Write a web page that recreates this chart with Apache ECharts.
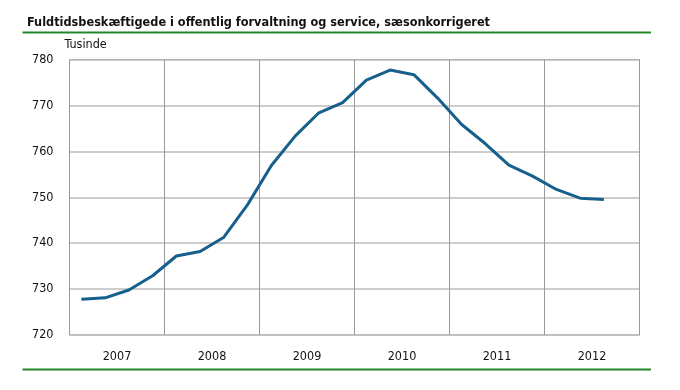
<!DOCTYPE html>
<html>
<head>
<meta charset="utf-8">
<script src="https://cdn.jsdelivr.net/npm/echarts@6/dist/echarts.min.js"></script>
<style>
html,body{margin:0;padding:0;background:#fff;}
#c{width:680px;height:390px;}
</style>
</head>
<body>
<div id="c"></div>
<script>
var titleText = 'Fuldtidsbeskæftigede i offentlig forvaltning og service, sæsonkorrigeret';
var unitLabel = 'Tusinde';
var years = ['2007', '2008', '2009', '2010', '2011', '2012'];
var quarters = ['2007K1','2007K2','2007K3','2007K4','2008K1','2008K2','2008K3','2008K4',
  '2009K1','2009K2','2009K3','2009K4','2010K1','2010K2','2010K3','2010K4',
  '2011K1','2011K2','2011K3','2011K4','2012K1','2012K2','2012K3','2012K4'];
var values = [727.8, 728.1, 729.8, 732.9, 737.2, 738.2, 741.3, 748.4,
  756.9, 763.3, 768.4, 770.6, 775.5, 777.7, 776.7, 771.6,
  765.9, 761.7, 757.0, 754.6, 751.7, 749.8, 749.5, null];
var yTicks = [720, 730, 740, 750, 760, 770, 780];

var FONT = '"DejaVu Sans Condensed", "Liberation Sans Narrow", "Liberation Sans", sans-serif';
var chart = echarts.init(document.getElementById('c'), null, {renderer: 'canvas'});
var option = {
  animation: false,
  backgroundColor: '#ffffff',
  title: {
    text: titleText,
    left: 22,
    top: 11,
    textStyle: {fontFamily: FONT, fontSize: 12.6, fontWeight: 'bold', color: '#111'}
  },
  grid: {
    left: 69.5, right: 40.5, top: 59.5, bottom: 55,
    show: true, borderColor: '#9a9a9a', borderWidth: 1
  },
  xAxis: [{
    type: 'category',
    data: quarters,
    boundaryGap: true,
    axisLine: {show: false},
    axisTick: {show: false},
    axisLabel: {show: false},
    splitLine: {show: false}
  }, {
    type: 'category',
    data: years,
    position: 'bottom',
    boundaryGap: true,
    axisLine: {show: false},
    axisTick: {show: false},
    axisLabel: {
      margin: 15,
      fontFamily: FONT, fontSize: 12.5, color: '#111'
    },
    splitLine: {show: true, lineStyle: {color: '#9a9a9a', width: 1}}
  }],
  yAxis: {
    type: 'value',
    min: yTicks[0],
    max: yTicks[yTicks.length - 1],
    interval: 10,
    name: unitLabel,
    nameLocation: 'end',
    nameGap: 8,
    nameTextStyle: {fontFamily: FONT, fontSize: 12.5, color: '#111', align: 'left', padding: [0, 0, 0, -5]},
    axisLine: {show: false},
    axisTick: {show: false},
    axisLabel: {margin: 16, fontFamily: FONT, fontSize: 12.5, color: '#111'},
    splitLine: {show: true, lineStyle: {color: '#bdbdbd', width: 1.5}}
  },
  series: [{
    type: 'line',
    xAxisIndex: 0,
    data: values,
    symbol: 'none',
    lineStyle: {color: '#175f8d', width: 3},
    itemStyle: {color: '#175f8d'}
  }],
  graphic: [
    {type: 'line', shape: {x1: 22.5, y1: 32.5, x2: 651, y2: 32.5}, style: {stroke: '#23852a', lineWidth: 2}},
    {type: 'line', shape: {x1: 22.5, y1: 369.5, x2: 651, y2: 369.5}, style: {stroke: '#23852a', lineWidth: 2}}
  ]
};
chart.setOption(option);
</script>
</body>
</html>
